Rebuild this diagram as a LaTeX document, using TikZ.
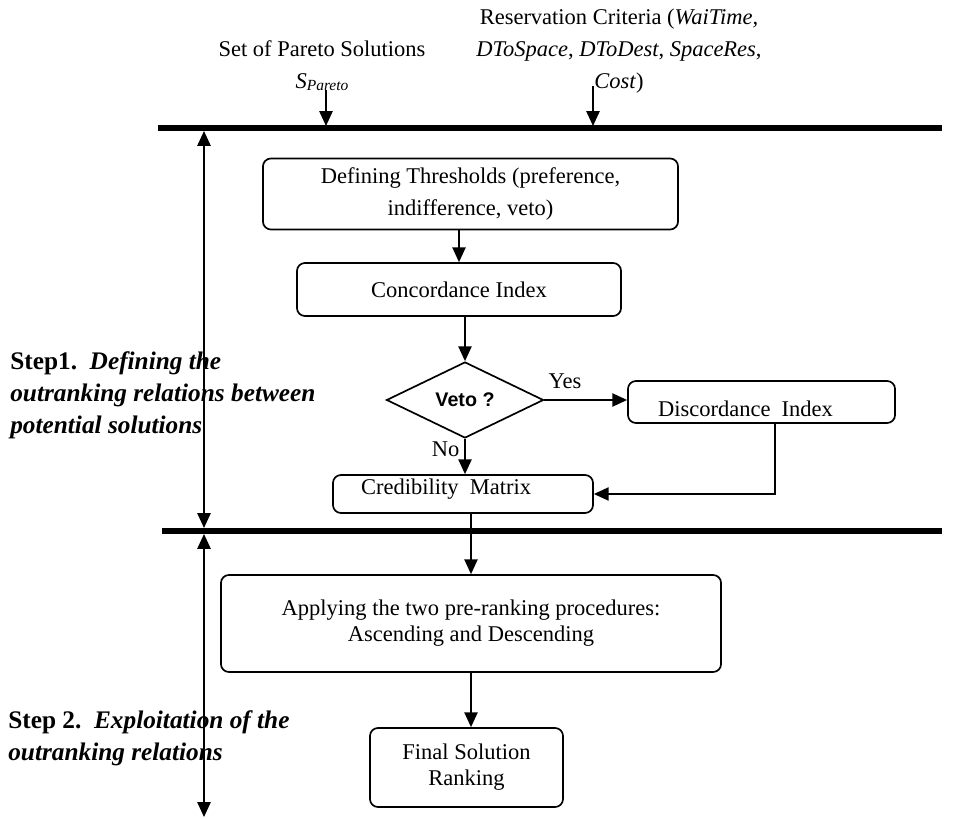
\documentclass[tikz,border=0pt]{standalone}
\usepackage{fontspec}
\setmainfont{Liberation Serif}
\newfontfamily\vetofont{Liberation Sans}
\usetikzlibrary{shapes.geometric,arrows.meta}

\begin{document}
\begin{tikzpicture}[x=0.025cm,y=-0.025cm,
  box/.style={draw, rounded corners=0.2cm, line width=1.2pt, align=center, inner sep=0pt, font=\fontsize{16}{18.4}\selectfont},
  arr/.style={line width=1.2pt, -{Triangle[length=0.37cm,width=0.33cm]}},
  dblarr/.style={line width=1.2pt, {Triangle[length=0.37cm,width=0.33cm]}-{Triangle[length=0.37cm,width=0.33cm]}},
  bar/.style={line width=3.6pt},
  lbl/.style={align=center, font=\fontsize{16}{22.7}\selectfont},
  steptext/.style={align=left, anchor=west, inner sep=0pt, font=\fontsize{18}{22.7}\selectfont\bfseries}]
 \useasboundingbox (0,0) rectangle (960,819);
 % Define the bars
 \coordinate (b1l) at (158,128);
 \coordinate (b1r) at (942,128);
 \coordinate (b2l) at (162,531);
 \coordinate (b2r) at (942,531);
 \draw[bar] (b1l) -- (b1r);
 \draw[bar] (b2l) -- (b2r);
 % Inputs on top
 \node[lbl] (pareto) at (322,66) {Set of Pareto Solutions\\\textit{S}\raisebox{-0.2ex}{\fontsize{11}{12}\selectfont\textit{Pareto}}};
 \node[lbl] (crit) at (619,51) {Reservation Criteria (\textit{WaiTime,}\\\textit{DToSpace}, \textit{DToDest}, \textit{SpaceRes},\\\textit{Cost})};
 \coordinate (pin) at (326,126);
 \coordinate (cin) at (593,126);
 \draw[arr] (326,90) -- (pin);
 \draw[arr] (593,86) -- (cin);
 % Define the boxes
 \node[box, minimum width=10.375cm, minimum height=1.775cm, font=\fontsize{16}{22.7}\selectfont] (defth) at (470.5,194) {Defining Thresholds (preference,\\indifference, veto)};
 \node[box, minimum width=8.1cm, minimum height=1.325cm] (conc) at (459,289.5) {Concordance Index};
 \node[diamond, draw, line width=1.2pt, inner sep=0pt, minimum width=3.925cm, minimum height=1.9cm, font=\vetofont\bfseries\fontsize{14}{16}\selectfont] (veto) at (465,400) {Veto ?};
 \node[box, minimum width=6.675cm, minimum height=1.05cm,
   label={[lbl, xshift=-0.4cm, yshift=-0.17cm]center:Discordance\ \ Index}] (disc) at (761.5,402) {};
 \node[box, minimum width=6.5cm, minimum height=0.95cm,
   label={[lbl, xshift=-0.42cm, yshift=0.12cm]center:Credibility\ \ Matrix}] (cred) at (463,494) {};
 \node[box, minimum width=12.5cm, minimum height=2.425cm] (apply) at (471,623.5) {Applying the two pre-ranking procedures:\\Ascending and Descending};
 \node[box, minimum width=4.825cm, minimum height=1.975cm] (final) at (466.5,767.5) {Final Solution\\Ranking};
 % Draw the arrows
 \draw[arr] (defth.south -| conc) -- (conc.north);
 \draw[arr] (conc.south -| veto) -- (veto.north);
 \draw[arr] (veto.east) -- (disc.west |- veto.east) node[pos=0.25, above, yshift=0.15cm, lbl] {Yes};
 \draw[arr] (veto.south) -- (cred.north -| veto.south) node[pos=0.3, left, lbl] {No};
 \draw[arr] (775,423) -- (775,494) -- (cred.east);
 \draw[arr] (cred.south -| apply) -- (apply.north);
 \draw[arr] (apply.south) -- (final.north -| apply.south);
 % Steps on the left
 \node[steptext] (step1) at (10,395) {Step1.\ \ \textit{Defining the}\\\textit{outranking relations between}\\\textit{potential solutions}};
 \node[steptext] (step2) at (8,738) {Step 2.\ \ \textit{Exploitation of the}\\\textit{outranking relations}};
 \coordinate (s1t) at (204,131);
 \coordinate (s1b) at (204,528);
 \coordinate (s2t) at (204,534);
 \coordinate (s2b) at (204,817);
 \draw[dblarr] (s1t) -- (s1b);
 \draw[dblarr] (s2t) -- (s2b);
\end{tikzpicture}
\end{document}
